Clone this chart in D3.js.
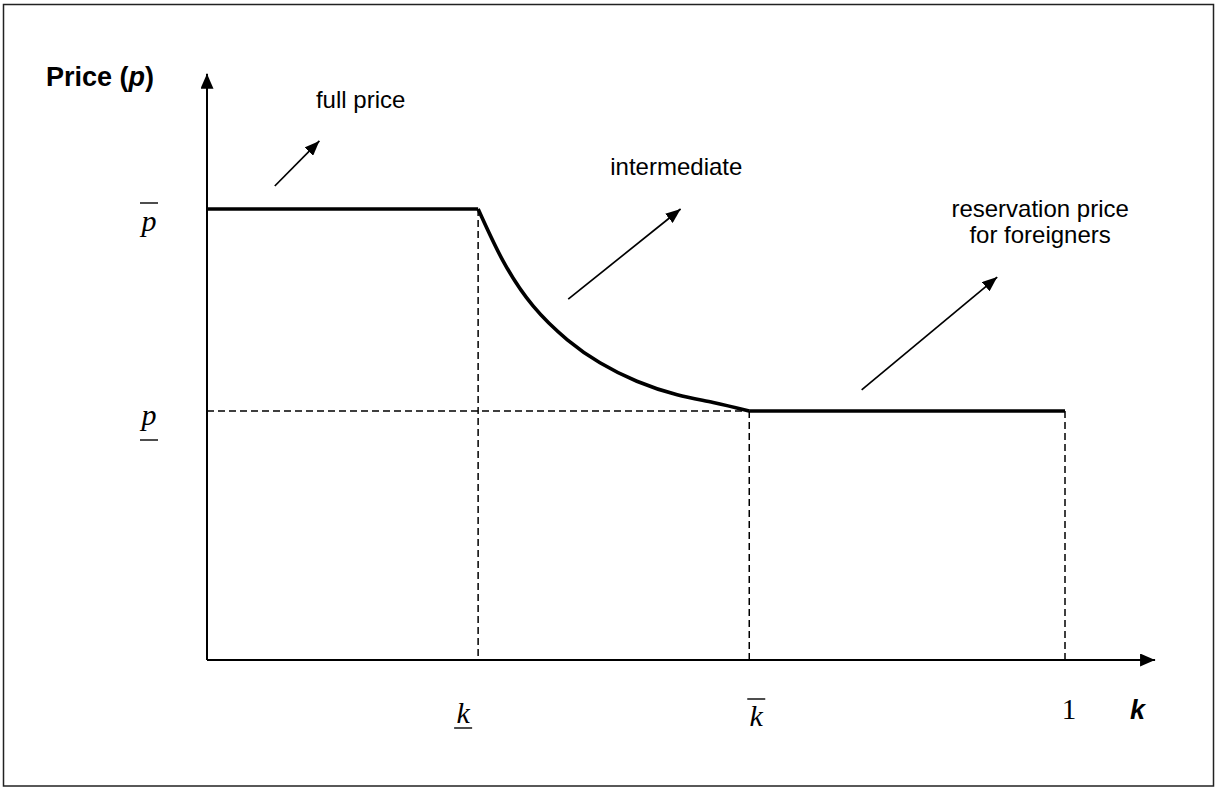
<!DOCTYPE html>
<html>
<head>
<meta charset="utf-8">
<script src="https://cdn.jsdelivr.net/npm/d3@7"></script>
<style>
  html, body { margin: 0; padding: 0; background: #fff; }
  svg { display: block; }
</style>
</head>
<body>
<div id="chart"></div>
<script>
// -- data (axis units: k on x, price scaled so p-bar = 1) ------------------
const kLow  = 0.316;   // k underline
const kHigh = 0.632;   // k bar
const pHigh = 1.0;     // p bar
const pLow  = 0.552;   // p underline

const fullPricePts    = [[0, pHigh], [kLow, pHigh]];
const intermediatePts = [[kLow, pHigh], [0.345, 0.885], [0.380, 0.785], [0.420, 0.710],
                         [0.458, 0.659], [0.501, 0.618], [0.548, 0.588], [0.590, 0.571],
                         [kHigh, pLow]];
const reservationPts  = [[kHigh, pLow], [1, pLow]];

// annotation arrows: [from, to]
const arrows = [
  [[0.079, 1.051], [0.131, 1.151]],
  [[0.421, 0.800], [0.552, 1.000]],
  [[0.763, 0.599], [0.921, 0.849]]
];
const notes = [
  { lines: ['full price'],                          at: [0.127, 1.224], anchor: 'start'  },
  { lines: ['intermediate'],                        at: [0.470, 1.075], anchor: 'start'  },
  { lines: ['reservation price', 'for foreigners'], at: [0.971, 0.982], anchor: 'middle' }
];

const W = 1215, H = 797;
const x = d3.scaleLinear().domain([0, 1]).range([207, 1065]);
const y = d3.scaleLinear().domain([0, 1]).range([660, 209]);
const xMax = 1.105, yMax = 1.30;

const svg = d3.select('#chart').append('svg')
  .attr('width', W).attr('height', H);

const defs = svg.append('defs');
defs.append('marker')
  .attr('id', 'head').attr('viewBox', '0 -6 15 12')
  .attr('refX', 15).attr('refY', 0)
  .attr('markerUnits', 'userSpaceOnUse')
  .attr('markerWidth', 15).attr('markerHeight', 12)
  .attr('orient', 'auto')
  .append('path').attr('d', 'M0,-6L15,0L0,6Z').attr('fill', '#000');

defs.append('marker')
  .attr('id', 'axhead').attr('viewBox', '0 -6.5 15 13')
  .attr('refX', 15).attr('refY', 0)
  .attr('markerUnits', 'userSpaceOnUse')
  .attr('markerWidth', 15).attr('markerHeight', 13)
  .attr('orient', 'auto')
  .append('path').attr('d', 'M0,-6.5L15,0L0,6.5Z').attr('fill', '#000');

// frame
svg.append('rect')
  .attr('x', 3.5).attr('y', 4.5).attr('width', 1210).attr('height', 781.5)
  .attr('fill', 'none').attr('stroke', '#222').attr('stroke-width', 1.5);

// -- dashed guides -------------------------------------------------------
const dash = svg.append('g')
  .attr('stroke', '#000').attr('stroke-width', 1.5)
  .attr('stroke-dasharray', '7,4').attr('fill', 'none');
[kLow, kHigh, 1].forEach(k => {
  const top = k === kLow ? pHigh : pLow;
  dash.append('line')
    .attr('x1', x(k)).attr('x2', x(k))
    .attr('y1', y(top)).attr('y2', y(0));
});
dash.append('line')
  .attr('x1', x(0)).attr('x2', x(kHigh))
  .attr('y1', y(pLow)).attr('y2', y(pLow));

// -- axes ----------------------------------------------------------------
svg.append('line')
  .attr('x1', x(0)).attr('y1', y(0)).attr('x2', x(0)).attr('y2', y(yMax))
  .attr('stroke', '#000').attr('stroke-width', 2).attr('marker-end', 'url(#axhead)');
svg.append('line')
  .attr('x1', x(0)).attr('y1', y(0)).attr('x2', x(xMax)).attr('y2', y(0))
  .attr('stroke', '#000').attr('stroke-width', 2).attr('marker-end', 'url(#axhead)');

// -- price schedule ------------------------------------------------------
const flat  = d3.line().x(d => x(d[0])).y(d => y(d[1]));
const curve = d3.line().x(d => x(d[0])).y(d => y(d[1])).curve(d3.curveNatural);

svg.append('g')
  .attr('fill', 'none').attr('stroke', '#000').attr('stroke-width', 3.6)
  .attr('stroke-linejoin', 'round')
  .selectAll('path')
  .data([flat(fullPricePts), curve(intermediatePts), flat(reservationPts)])
  .join('path')
  .attr('d', d => d);

// -- annotation arrows + notes ------------------------------------------
svg.append('g').selectAll('line')
  .data(arrows)
  .join('line')
  .attr('x1', d => x(d[0][0])).attr('y1', d => y(d[0][1]))
  .attr('x2', d => x(d[1][0])).attr('y2', d => y(d[1][1]))
  .attr('stroke', '#000').attr('stroke-width', 1.7)
  .attr('marker-end', 'url(#head)');

const sans = 'Arial, "Liberation Sans", Helvetica, sans-serif';
const serif = '"Times New Roman", "Liberation Serif", Times, serif';

notes.forEach(n => {
  const t = svg.append('text')
    .attr('x', x(n.at[0])).attr('y', y(n.at[1]))
    .attr('text-anchor', n.anchor)
    .attr('font-family', sans).attr('font-size', 24).attr('fill', '#000');
  n.lines.forEach((l, i) => {
    t.append('tspan').attr('x', x(n.at[0])).attr('dy', i ? 26 : 0).text(l);
  });
});

// axis title
const title = svg.append('text')
  .attr('x', 46).attr('y', 86)
  .attr('font-family', sans).attr('font-size', 27).attr('font-weight', 'bold');
title.append('tspan').text('Price (');
title.append('tspan').attr('font-style', 'italic').text('p');
title.append('tspan').text(')');

svg.append('text')
  .attr('x', 1130).attr('y', 719)
  .attr('font-family', sans).attr('font-size', 27)
  .attr('font-weight', 'bold').attr('font-style', 'italic')
  .text('k');

// -- math tick labels ----------------------------------------------------
const mathLabels = [
  { txt: 'p', cx: 149,          base: 231, bar: 'over',  size: 30 },
  { txt: 'p', cx: 149,          base: 425, bar: 'under', size: 30 },
  { txt: 'k', cx: x(kLow) - 15, base: 723, bar: 'under', size: 30 },
  { txt: 'k', cx: x(kHigh) + 7, base: 726, bar: 'over',  size: 30 },
  { txt: '1', cx: x(1) + 4,     base: 719, bar: null,    size: 29 }
];

mathLabels.forEach(m => {
  svg.append('text')
    .attr('x', m.cx).attr('y', m.base)
    .attr('text-anchor', 'middle')
    .attr('font-family', serif).attr('font-size', m.size)
    .attr('font-style', m.txt === '1' ? 'normal' : 'italic')
    .text(m.txt);
  if (!m.bar) return;
  const yy = m.bar === 'over'
    ? m.base - (m.txt === 'p' ? 28 : 27)
    : m.base + (m.txt === 'p' ? 15 : 5);
  svg.append('line')
    .attr('x1', m.cx - 9).attr('x2', m.cx + 9)
    .attr('y1', yy).attr('y2', yy)
    .attr('stroke', '#000').attr('stroke-width', 1.4);
});
</script>
</body>
</html>
